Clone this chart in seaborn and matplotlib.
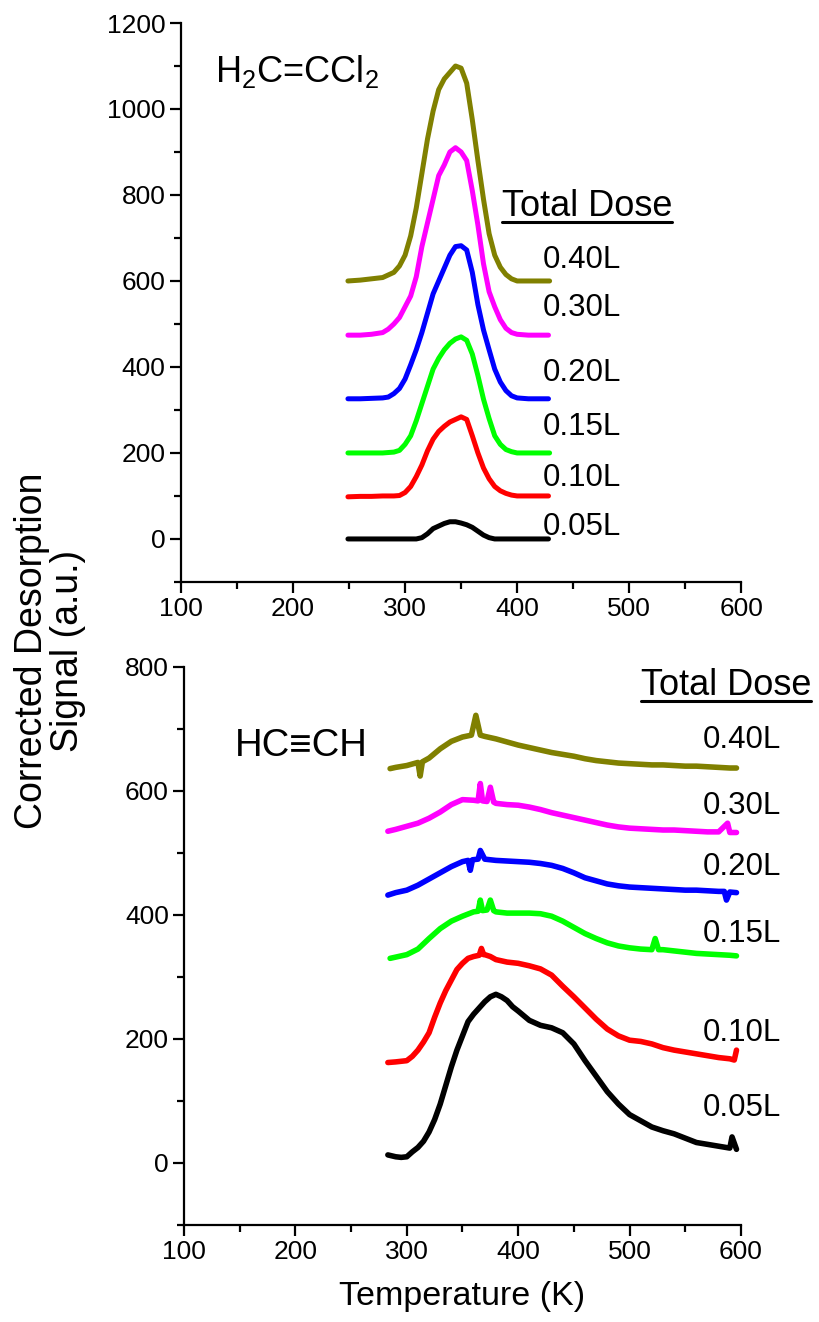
import numpy as np
import pandas as pd
import matplotlib
matplotlib.use("Agg")
import matplotlib.pyplot as plt
from matplotlib.ticker import MultipleLocator
from matplotlib.lines import Line2D
import seaborn as sns

# ---------------- data: H2C=CCl2 (top panel) ----------------
doses = ["0.05L", "0.10L", "0.15L", "0.20L", "0.30L", "0.40L"]
colors = ["#000000", "#FF0000", "#00FF00", "#0000FF", "#FF00FF", "#808000"]

t_dce_005 = [249, 260, 270, 280, 290, 300, 310, 315, 320, 325, 330, 335, 340, 345, 350, 355, 360, 365, 370, 375, 380, 390, 400, 410, 428]
v_dce_005 = [0, 0, 0, 0, 0, 0, 0, 3, 12, 24, 30, 36, 40, 40, 37, 33, 27, 18, 9, 3, 0, 0, 0, 0, 0]

t_dce_010 = [249, 260, 270, 280, 290, 295, 300, 305, 310, 315, 320, 325, 330, 335, 340, 345, 350, 355, 360, 365, 370, 375, 380, 385, 390, 395, 400, 410, 428]
v_dce_010 = [98, 99, 99, 100, 100, 101, 108, 122, 145, 172, 205, 232, 250, 262, 272, 278, 284, 278, 240, 200, 165, 140, 122, 112, 106, 102, 100, 100, 100]

t_dce_015 = [249, 260, 270, 280, 290, 295, 300, 305, 310, 315, 320, 325, 330, 335, 340, 345, 350, 355, 360, 365, 370, 375, 380, 385, 390, 395, 400, 410, 429]
v_dce_015 = [200, 200, 200, 200, 202, 206, 220, 240, 275, 315, 355, 395, 420, 440, 455, 465, 470, 462, 430, 380, 325, 280, 240, 220, 208, 203, 200, 200, 200]

t_dce_020 = [249, 260, 270, 280, 285, 290, 295, 300, 305, 310, 315, 320, 325, 330, 335, 340, 345, 350, 355, 360, 365, 370, 375, 380, 385, 390, 395, 400, 410, 428]
v_dce_020 = [326, 326, 327, 328, 330, 338, 350, 372, 405, 440, 480, 525, 570, 600, 630, 660, 680, 682, 672, 620, 545, 486, 440, 395, 365, 345, 333, 328, 326, 326]

t_dce_030 = [249, 260, 270, 280, 285, 290, 295, 300, 305, 310, 315, 320, 325, 330, 335, 340, 345, 350, 355, 360, 365, 370, 375, 380, 385, 390, 395, 400, 410, 428]
v_dce_030 = [474, 474, 476, 480, 488, 500, 515, 540, 565, 610, 680, 735, 790, 845, 870, 900, 910, 900, 880, 810, 730, 640, 575, 540, 510, 490, 480, 476, 474, 474]

t_dce_040 = [249, 260, 270, 280, 290, 295, 300, 305, 310, 315, 320, 325, 330, 335, 340, 345, 350, 355, 360, 365, 370, 375, 380, 385, 390, 395, 400, 410, 420, 429]
v_dce_040 = [600, 602, 605, 608, 620, 635, 660, 705, 770, 850, 930, 995, 1045, 1070, 1085, 1100, 1095, 1060, 975, 880, 790, 710, 660, 632, 615, 605, 600, 600, 600, 600]

# ---------------- data: HC≡CH (bottom panel) ----------------
t_ac_005 = [283, 290, 295, 300, 305, 310, 315, 320, 325, 330, 335, 340, 345, 350, 355, 360, 365, 370, 375, 380, 385, 390, 395, 400, 410, 420, 430, 440, 450, 460, 470, 480, 490, 500, 510, 520, 530, 540, 550, 560, 570, 580, 590, 592, 596]
v_ac_005 = [13, 10, 9, 10, 18, 25, 35, 50, 70, 95, 125, 155, 182, 205, 228, 240, 250, 260, 268, 272, 268, 262, 252, 245, 230, 222, 218, 210, 192, 165, 140, 115, 95, 78, 68, 58, 52, 47, 40, 33, 30, 27, 24, 42, 22]

t_ac_010 = [283, 290, 300, 305, 310, 315, 320, 325, 330, 335, 340, 345, 350, 355, 360, 365, 367, 369, 370, 375, 380, 390, 400, 410, 420, 430, 440, 450, 460, 470, 480, 490, 500, 510, 520, 530, 540, 550, 560, 570, 580, 590, 594, 596]
v_ac_010 = [162, 163, 165, 172, 182, 195, 210, 235, 258, 278, 295, 312, 322, 330, 333, 335, 346, 336, 336, 333, 328, 324, 322, 318, 313, 303, 285, 268, 250, 232, 216, 205, 198, 196, 192, 186, 182, 179, 176, 173, 170, 168, 166, 182]

t_ac_015 = [285, 290, 300, 310, 320, 330, 340, 350, 360, 364, 366, 368, 372, 375, 378, 380, 390, 400, 410, 420, 430, 440, 450, 460, 470, 480, 490, 500, 510, 520, 523, 526, 530, 540, 550, 560, 570, 580, 590, 596]
v_ac_015 = [330, 332, 336, 345, 362, 378, 390, 398, 405, 406, 424, 407, 408, 424, 407, 405, 403, 403, 403, 402, 398, 390, 380, 370, 362, 355, 350, 347, 345, 344, 362, 344, 344, 342, 340, 338, 337, 336, 335, 334]

t_ac_020 = [283, 290, 300, 310, 320, 330, 340, 350, 355, 357, 359, 364, 366, 370, 380, 390, 400, 410, 420, 430, 440, 450, 460, 470, 480, 490, 500, 510, 520, 530, 540, 550, 560, 570, 580, 585, 587, 590, 596]
v_ac_020 = [432, 436, 440, 448, 458, 468, 478, 486, 488, 472, 489, 490, 504, 490, 488, 487, 486, 485, 483, 480, 475, 468, 460, 455, 450, 447, 445, 444, 443, 442, 441, 440, 440, 439, 438, 438, 424, 437, 436]

t_ac_030 = [283, 290, 300, 310, 320, 330, 340, 350, 360, 364, 366, 368, 372, 375, 378, 380, 390, 400, 410, 420, 430, 440, 450, 460, 470, 480, 490, 500, 510, 520, 530, 540, 550, 560, 570, 580, 588, 590, 596]
v_ac_030 = [535, 538, 543, 548, 556, 566, 578, 586, 585, 584, 612, 584, 583, 606, 582, 580, 578, 577, 574, 570, 565, 561, 557, 553, 549, 545, 542, 540, 539, 538, 537, 537, 536, 535, 534, 534, 548, 533, 533]

t_ac_040 = [285, 290, 300, 310, 312, 314, 320, 330, 340, 350, 358, 362, 366, 370, 380, 390, 400, 410, 420, 430, 440, 450, 460, 470, 480, 490, 500, 510, 520, 530, 540, 550, 560, 570, 580, 590, 596]
v_ac_040 = [636, 638, 641, 646, 624, 647, 653, 668, 680, 687, 690, 722, 690, 688, 684, 679, 674, 670, 666, 662, 659, 656, 652, 649, 647, 645, 644, 643, 642, 642, 641, 640, 640, 639, 638, 637, 637]

# label anchor values (data units)
top_label_y = [9, 122, 242, 368, 519, 630]
bot_label_y = [76, 196, 357, 465, 563, 669]

top_series = [(t_dce_005, v_dce_005), (t_dce_010, v_dce_010), (t_dce_015, v_dce_015),
              (t_dce_020, v_dce_020), (t_dce_030, v_dce_030), (t_dce_040, v_dce_040)]
bot_series = [(t_ac_005, v_ac_005), (t_ac_010, v_ac_010), (t_ac_015, v_ac_015),
              (t_ac_020, v_ac_020), (t_ac_030, v_ac_030), (t_ac_040, v_ac_040)]

# ---------------- style ----------------
sns.set_style("ticks")
plt.rcParams["font.family"] = ["Liberation Sans", "DejaVu Sans"]
plt.rcParams["mathtext.fontset"] = "custom"
plt.rcParams["mathtext.rm"] = "Liberation Sans"
plt.rcParams["mathtext.it"] = "Liberation Sans"
plt.rcParams["text.color"] = "black"
plt.rcParams["axes.labelcolor"] = "black"
plt.rcParams["xtick.color"] = "black"
plt.rcParams["ytick.color"] = "black"

fig = plt.figure(figsize=(8.19, 13.22), dpi=100)
ax1 = fig.add_axes([0.221, 0.5598, 0.684, 0.4228])
ax2 = fig.add_axes([0.2247, 0.0734, 0.680, 0.4221])

for ax, series, lw in [(ax1, top_series, 3.6), (ax2, bot_series, 4.0)]:
    for (t, v), c, d in zip(series, colors, doses):
        df = pd.DataFrame({"T": t, "S": v})
        sns.lineplot(data=df, x="T", y="S", color=c, lw=lw, ax=ax, sort=False,
                     estimator=None, legend=False)

def style(ax, ymax, ymajor):
    ax.set_xlim(100, 600)
    ax.set_ylim(-100, ymax)
    ax.xaxis.set_major_locator(MultipleLocator(100))
    ax.xaxis.set_minor_locator(MultipleLocator(50))
    ax.yaxis.set_minor_locator(MultipleLocator(100))
    ax.set_yticks([y for y in range(0, ymax + 1, ymajor)])
    for s in ["top", "right"]:
        ax.spines[s].set_visible(False)
    for s in ["left", "bottom"]:
        ax.spines[s].set_linewidth(1.6)
        ax.spines[s].set_color("black")
    ax.tick_params(which="major", direction="out", length=8, width=1.6, labelsize=19,
                   colors="black", pad=3)
    ax.tick_params(which="minor", direction="out", length=5, width=1.6, colors="black")
    ax.set_xlabel("")
    ax.set_ylabel("")

style(ax1, 1200, 200)
style(ax2, 800, 200)

# top panel labels
ax1.text(130, 1063, r"H$_2$C=CCl$_2$", fontsize=26, va="baseline", ha="left", color="black")
tt1 = ax1.text(386.6, 751, "Total Dose", fontsize=26, va="baseline", ha="left", color="black")
for d, y in zip(doses, top_label_y):
    ax1.text(423, y, d, fontsize=22.5, va="baseline", ha="left", color="black")

# bottom panel labels
ax2.text(145.8, 656, "HC\u2261CH", fontsize=27.5, va="baseline", ha="left", color="black")
tt2 = ax2.text(510, 754, "Total Dose", fontsize=26, va="baseline", ha="left", color="black")
for d, y in zip(doses, bot_label_y):
    ax2.text(566, y, d, fontsize=22.5, va="baseline", ha="left", color="black")

ax2.set_xlabel("Temperature (K)", fontsize=24.5, labelpad=12, color="black")
fig.text(0.061, 1 - 651 / 1322, "Corrected Desorption\nSignal (a.u.)", rotation=90,
         ha="center", va="center", fontsize=27, multialignment="center", linespacing=1.0,
         color="black")

# underline "Total Dose"
fig.canvas.draw()
r = fig.canvas.get_renderer()
inv = fig.transFigure.inverted()
for tt in (tt1, tt2):
    bb = tt.get_window_extent(renderer=r)
    (x0, y0), (x1, _) = inv.transform([(bb.x0, bb.y0), (bb.x1, bb.y0)])
    fig.add_artist(Line2D([x0, x1], [y0 + 0.0015, y0 + 0.0015], transform=fig.transFigure,
                          color="black", lw=2.2))

fig.savefig("out.png", dpi=100)
